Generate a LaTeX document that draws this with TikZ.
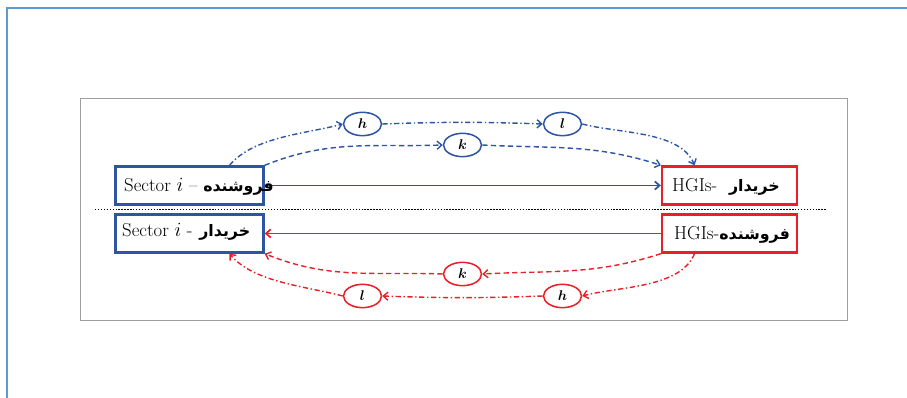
\documentclass[tikz,border=0pt]{standalone}
\usepackage{amsmath}
\usepackage{bm}
\usepackage{fontspec}
\newfontfamily\arabicfont[Script=Arabic]{DejaVu Sans}
\TeXXeTstate=1
\usetikzlibrary{shapes.geometric, arrows.meta, positioning, calc}
\definecolor{secC}  {RGB}{ 46, 84,165}
\definecolor{hgiC}  {RGB}{232, 32, 40}
\definecolor{pageC} {RGB}{ 91,155,213}
\tikzset{
  secbox/.style  = {rectangle, draw=secC, line width=2pt, inner sep=0pt,
                    minimum width=4.44cm, minimum height=1.14cm},
  hgibox/.style  = {rectangle, draw=hgiC, line width=2pt, inner sep=0pt,
                    minimum width=4.05cm, minimum height=1.14cm},
  secmark/.style = {ellipse, draw=secC, line width=1.3pt, inner sep=0pt,
                    minimum width=1.14cm, minimum height=0.7cm, font=\large},
  hgimark/.style = {ellipse, draw=hgiC, line width=1.3pt, inner sep=0pt,
                    minimum width=1.14cm, minimum height=0.7cm, font=\large},
  boxtext/.style = {anchor=west, inner sep=0pt, font=\fontsize{16}{18}\selectfont},
  secarr/.style  = {-{Straight Barb[length=4pt,width=7pt]}, line width=1.2pt, color=secC},
  hgiarr/.style  = {-{Straight Barb[length=4pt,width=7pt]}, line width=1.2pt, color=hgiC},
  solidline/.style   = {line width=1.5pt},
  dashdotline/.style = {dash pattern=on 4.5pt off 2.2pt on 1.2pt off 2.2pt},
  dashline/.style    = {dash pattern=on 4.5pt off 2.8pt},
}
\newcommand{\fa}[1]{{\arabicfont\bfseries\fontsize{13.5}{16}\selectfont\beginR #1\endR}}

\begin{document}
\begin{tikzpicture}[x=0.03cm, y=0.03cm]
\useasboundingbox (0,0) rectangle (907,398);

% ---- Frames -----------------------------------------------------------------
\draw[pageC, line width=1.6pt] (7,0) -- (7,390) -- (907,390);
\draw[gray!75, line width=0.8pt] (80,78) rectangle (847,300);

% ---- Boxes ------------------------------------------------------------------
\node[secbox] (SecS) at (189.5,212.5) {};
\node[hgibox] (HgiB) at (729.5,212.5) {};
\node[secbox] (SecB) at (189.5,164.5) {};
\node[hgibox] (HgiS) at (729.5,164.5) {};

% ---- Separator --------------------------------------------------------------
\draw[black, line width=1.2pt, dash pattern=on 1.2pt off 1.3pt] (95,188.3) -- (827,188.3);

% ---- Mode nodes -------------------------------------------------------------
\node[secmark] (Th) at (362.5,274) {$\bm{h}$};
\node[secmark] (Tl) at (562.5,274) {$\bm{l}$};
\node[secmark] (Tk) at (462.5,253) {$\bm{k}$};
\node[hgimark] (Bk) at (462.5,124) {$\bm{k}$};
\node[hgimark] (Bl) at (362.5,102) {$\bm{l}$};
\node[hgimark] (Bh) at (562.5,102) {$\bm{h}$};

% ---- Solid flows ------------------------------------------------------------
\draw[secarr, solidline] (SecS.east) -- (HgiB.west);
\draw[hgiarr, solidline] (HgiS.west) -- (SecB.east);

% ---- Box labels -------------------------------------------------------------
\node[boxtext] (SecSt) at (124,211) {Sector $i$ – \fa{فروشنده}};
\node[boxtext] (HgiBt) at (672,211) {HGIs-\hspace{0.35cm}\fa{خریدار}};
\node[boxtext] (SecBt) at (122,166) {Sector $i$ -\hspace{0.2cm}\fa{خریدار}};
\node[boxtext] (HgiSt) at (674,163) {HGIs-\fa{فروشنده}};

% ---- Upper flows (sector sells) ---------------------------------------------
\draw[secarr, dashdotline] ($(SecS.north)+(40,0)$) to[out=50,in=195,looseness=0.8] (Th.west);
\draw[secarr, dashdotline] (Th.east) to[bend left=2] (Tl.west);
\draw[secarr, dashdotline] (Tl.east) to[out=-15,in=112,looseness=0.8] ($(HgiB.north)+(-35,0)$);
\draw[secarr, dashline] (SecS.north east) to[out=22,in=182] (Tk.west);
\draw[secarr, dashline] (Tk.east) to[out=-3,in=162] (HgiB.north west);

% ---- Lower flows (HGIs sell) ------------------------------------------------
\draw[hgiarr, dashline] (HgiS.south west) to[out=-162,in=3] (Bk.east);
\draw[hgiarr, dashline] (Bk.west) to[out=178,in=-22] (SecB.south east);
\draw[hgiarr, dashdotline] ($(HgiS.south)+(-35,0)$) to[out=-112,in=15,looseness=0.8] (Bh.east);
\draw[hgiarr, dashdotline] (Bh.west) to[bend left=2] (Bl.east);
\draw[hgiarr, dashdotline] (Bl.west) to[out=165,in=-50,looseness=0.8] ($(SecB.south)+(40,0)$);

\end{tikzpicture}
\end{document}
